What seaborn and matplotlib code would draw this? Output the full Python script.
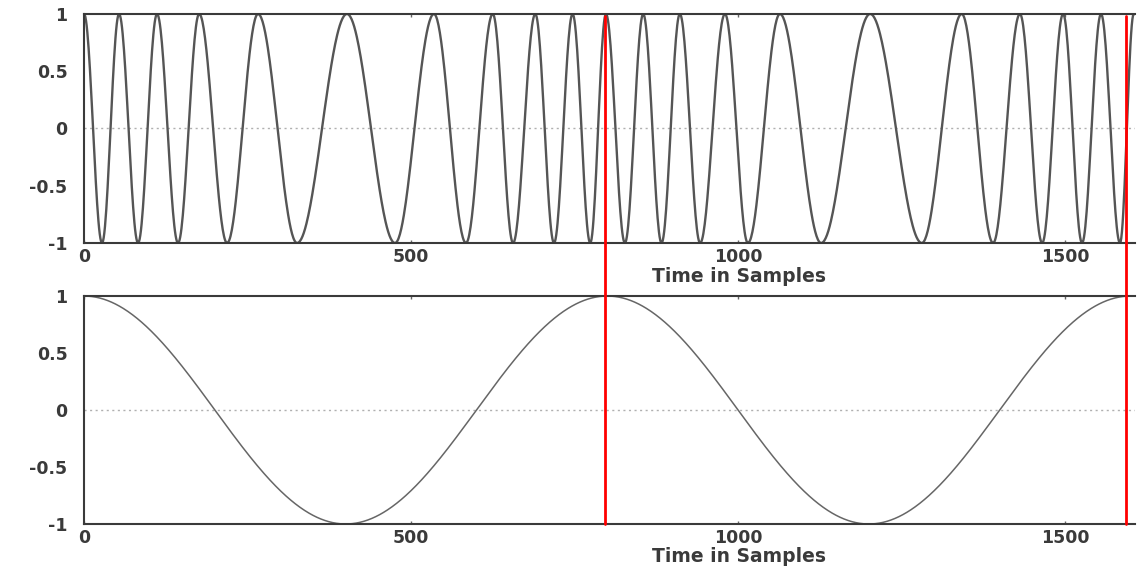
import numpy as np
import pandas as pd
import matplotlib
matplotlib.use("Agg")
import matplotlib.pyplot as plt
import matplotlib.transforms as mtransforms
from matplotlib.lines import Line2D
import seaborn as sns

# extrema of the FM signal (sample index); alternating +1 / -1
top_extrema = [0, 27.5, 53.5, 82.6, 111.6, 143.7, 176, 218.7, 266, 325.7,
               402, 475.5, 535, 584, 625, 656, 690, 718.6, 747, 774,
               798, 827, 855, 883, 911, 942, 980, 1015, 1064, 1127,
               1202, 1281, 1342, 1390, 1431, 1465, 1497, 1526, 1555, 1584, 1605]
# extrema of the modulating cosine (bottom panel)
bottom_extrema = [0, 400, 800, 1200, 1600]

# red marker lines (hand drawn on the picture)
marker_samples = [797, 1593]

x_max = 1607
x_ticks = [0, 500, 1000, 1500]
y_ticks = [-1, -0.5, 0, 0.5, 1]
y_tick_labels = ["-1", "-0.5", "0", "0.5", "1"]
x_label = "Time in Samples"


def wave_from_extrema(extrema, n):
    # phase is k*pi at the k-th extremum, signal starts at +1
    ph = np.pi * np.arange(len(extrema))
    return np.cos(np.interp(n, extrema, ph))


n = np.arange(0, x_max + 1)
df_top = pd.DataFrame({"n": n, "y": wave_from_extrema(top_extrema, n)})
df_bot = pd.DataFrame({"n": n, "y": wave_from_extrema(bottom_extrema, n)})

sns.set_style("white")
plt.rcParams["font.family"] = ["DejaVu Sans"]

fig = plt.figure(figsize=(11.42, 5.66), dpi=100)
ax_top = fig.add_axes([0.0736, 0.5707, 0.9203, 0.4046])
ax_bot = fig.add_axes([0.0736, 0.0742, 0.9203, 0.4028])

sns.lineplot(data=df_top, x="n", y="y", ax=ax_top, color="#555555", lw=1.7)
sns.lineplot(data=df_bot, x="n", y="y", ax=ax_bot, color="#666666", lw=1.1)

txt_col = "#3a3a3a"
for ax in (ax_top, ax_bot):
    ax.axhline(0, color="#b0b0b0", lw=1.0, ls=(0, (1.5, 2.5)), zorder=0)
    ax.set_xlim(0, x_max)
    ax.set_ylim(-1, 1)
    ax.set_xticks(x_ticks)
    ax.set_xticklabels([str(t) for t in x_ticks])
    ax.set_yticks(y_ticks)
    ax.set_yticklabels(y_tick_labels)
    ax.tick_params(axis="y", direction="in", length=7.5, width=1.0, pad=12,
                   labelsize=12.5, labelcolor=txt_col, color="#666666")
    ax.tick_params(axis="x", direction="in", length=2.5, width=1.0, pad=3.5,
                   labelsize=12.5, labelcolor=txt_col, color="#666666",
                   top=True, bottom=True)
    for lab in ax.get_xticklabels() + ax.get_yticklabels():
        lab.set_fontweight("bold")
    for side in ("left", "top", "bottom"):
        ax.spines[side].set_color(txt_col)
        ax.spines[side].set_linewidth(1.5)
    ax.spines["right"].set_visible(False)
    ax.set_ylabel("")
    ax.set_xlabel(x_label, fontsize=13.5, fontweight="bold", color=txt_col)
    ax.xaxis.label.set_va("top")
    ax.xaxis.set_label_coords(0.623, -0.103)

# red vertical markers through both panels
trans = mtransforms.blended_transform_factory(ax_top.transData, fig.transFigure)
for m in marker_samples:
    fig.add_artist(Line2D([m, m], [(566 - 16) / 566, (566 - 524) / 566],
                          transform=trans, color="red", lw=2.0))

fig.savefig("out.png", dpi=100)
